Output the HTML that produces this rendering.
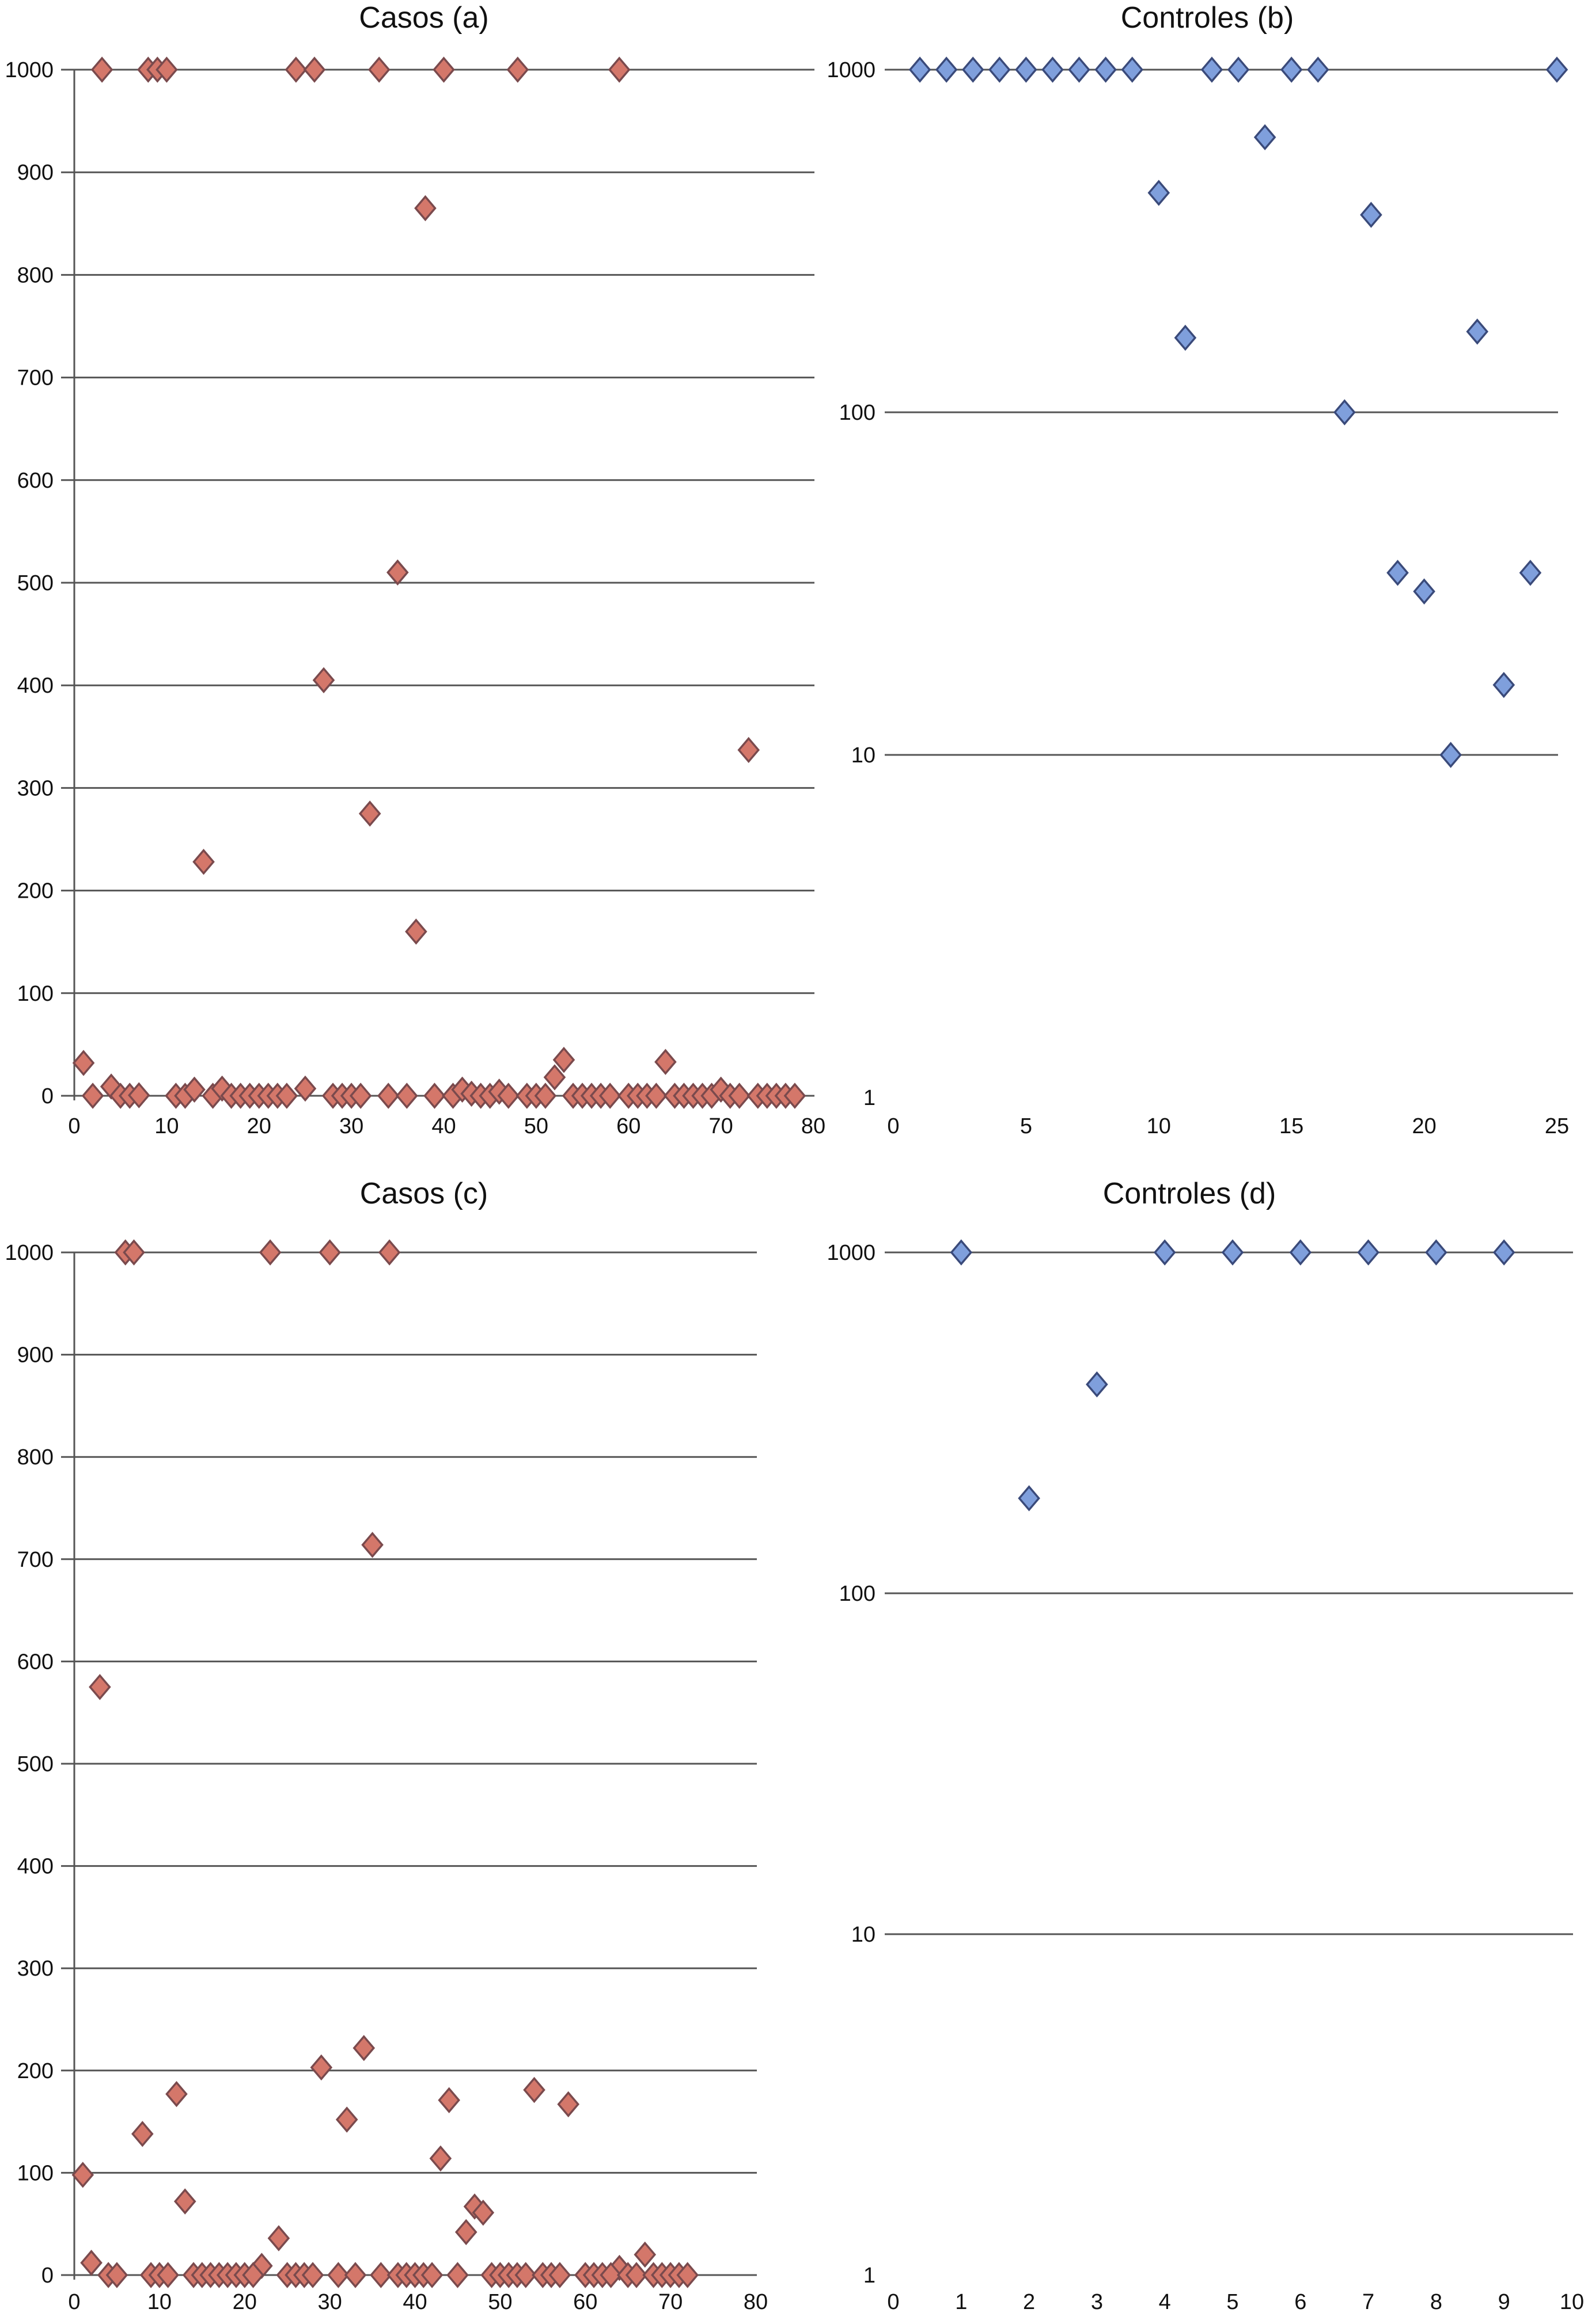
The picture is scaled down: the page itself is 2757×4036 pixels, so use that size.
<!DOCTYPE html>
<html><head><meta charset="utf-8"><style>
html,body{margin:0;padding:0;background:#fff;}
svg{display:block;font-family:"Liberation Sans",sans-serif;}
</style></head><body>
<svg id="chart" width="2757" height="4036" viewBox="0 0 2757 4036" xmlns="http://www.w3.org/2000/svg"></svg>
<script>
// Panel a (Casos)
const aX = [3,8,9,10,24,26,33,40,48,59,38,14,35,27,32,37,73,1,2,4,5,6,7,11,12,13,15,16,17,18,19,20,21,22,23,25,28,29,30,31,34,36,39,41,42,43,44,45,46,47,49,50,51,52,53,54,55,56,57,58,60,61,62,63,64,65,66,67,68,69,70,71,72,74,75,76,77,78];
const aY = [1000,1000,1000,1000,1000,1000,1000,1000,1000,1000,865,228,510,405,275,160,337,32,0,9,0,0,0.5,0,0,6,0,7,0,0,0,0,0,0,0,7,0,0,0,0,0,0,0,0,6,2,0,0,4,0,0,0,0,18,35,0,0,0,0,0,0,0,0,0,33,0,0,0,0,0,6,0,0,0,0,0,0,0];
// Panel b (Controles, log)
const bX = [1,2,3,4,5,6,7,8,9,12,13,15,16,25,10,11,14,17,18,19,20,21,22,23,24];
const bY = [1000,1000,1000,1000,1000,1000,1000,1000,1000,1000,1000,1000,1000,1000,437,165,635,100,377,34,30,10,172,16,34];
// Panel c (Casos)
const cX = [6,7,23,30,37,35,3,1,2,8,12,13,24,29,32,34,43,44,46,47,48,54,58,67,22,64,4,5,9,10,11,14,15,16,17,18,19,20,21,25,26,27,28,31,33,36,38,39,40,41,42,45,49,50,51,52,53,55,56,57,60,61,62,63,65,66,68,69,70,71,72];
const cY = [1000,1000,1000,1000,1000,714,575,98,12,138,177,72,36,203,152,222,114,171,42,67,61,181,167,20,9,7,0,0,0,0,0,0,0,0,0,0,0,0,0,0,0,0,0,0,0,0,0,0,0,0,0,0,0,0,0,0,0,0,0,0,0,0,0,0,0,0,0,0,0,0,0];
// Panel d (Controles, log)
const dX = [1,4,5,6,7,8,9,2,3];
const dY = [1000,1000,1000,1000,1000,1000,1000,190,410];
const linTicks = [0,100,200,300,400,500,600,700,800,900,1000];
const logTicks = [1,10,100,1000];
const xTicks80 = [0,10,20,30,40,50,60,70,80];
const xTicks25 = [0,5,10,15,20,25];
const xTicks10 = [0,1,2,3,4,5,6,7,8,9,10];

const NS="http://www.w3.org/2000/svg";
const svg=document.getElementById('chart');
function mk(tag,attrs,parent){const e=document.createElementNS(NS,tag);for(const k in attrs)e.setAttribute(k,attrs[k]);(parent||svg).appendChild(e);return e;}

function panel(cfg){
  const g=mk('g',{});
  
  
  const sx=v=>cfg.x0+(v-cfg.xmin)/(cfg.xmax-cfg.xmin)*(cfg.x1-cfg.x0);
  const sy=cfg.log
    ? v=>cfg.yb-(Math.log10(v)-0)/3*(cfg.yb-cfg.yt)
    : v=>cfg.yb-(v/1000)*(cfg.yb-cfg.yt);
  const t=mk('text',{x:cfg.tx,y:cfg.ty,'font-size':52,'text-anchor':'middle',fill:'#111'},g);
  t.textContent=cfg.title;
  
  
  cfg.yticks.forEach(v=>{
    const y=sy(v);
    if(!(cfg.log && v===1)){
      const l=mk('line',{x1:cfg.gl,x2:cfg.gr,y1:y,y2:y,stroke:'#555','stroke-width':3},g);
      
      
    }
    const tx=mk('text',{x:cfg.lx,y:y+13,'font-size':38,'text-anchor':'end',fill:'#111'},g);
    tx.textContent=v;
    
    
  });
  if(cfg.axis){
    const a=mk('line',{x1:cfg.x0,x2:cfg.x0,y1:sy(1000),y2:cfg.yb+8,stroke:'#555','stroke-width':3},g);
    
    
  }
  cfg.xticks.forEach(v=>{
    const tx=mk('text',{x:sx(v),y:cfg.xly,'font-size':38,'text-anchor':'middle',fill:'#111'},g);
    tx.textContent=v;
    
    
  });
  cfg.xs.forEach((xv,i)=>{
    const cx=sx(xv),cy=sy(cfg.ys[i]),r=17;
    const p=mk('polygon',{points:`${cx},${cy-r-3} ${cx+r},${cy} ${cx},${cy+r+3} ${cx-r},${cy}`,fill:cfg.fill,stroke:cfg.stroke,'stroke-width':3.5},g);
    
    
  });
}
panel({name:'panel-casos-a',title:'Casos (a)',tx:736,ty:48,x0:129,x1:1412,xmin:0,xmax:80,yt:121,yb:1903,log:false,
  yticks:linTicks,xticks:xTicks80,gl:106,gr:1414,lx:93,xly:1968,axis:true,xs:aX,ys:aY,fill:'#d4776a',stroke:'#7a4a4d'});
panel({name:'panel-controles-b',title:'Controles (b)',tx:2096,ty:48,x0:1551,x1:2703,xmin:0,xmax:25,yt:121,yb:1906,log:true,
  yticks:logTicks,xticks:xTicks25,gl:1536,gr:2705,lx:1520,xly:1968,axis:false,xs:bX,ys:bY,fill:'#7f9fdc',stroke:'#3a4a7a'});
panel({name:'panel-casos-c',title:'Casos (c)',tx:736,ty:2090,x0:129,x1:1312,xmin:0,xmax:80,yt:2175,yb:3951,log:false,
  yticks:linTicks,xticks:xTicks80,gl:106,gr:1314,lx:93,xly:4010,axis:true,xs:cX,ys:cY,fill:'#d4776a',stroke:'#7a4a4d'});
panel({name:'panel-controles-d',title:'Controles (d)',tx:2065,ty:2090,x0:1551,x1:2729,xmin:0,xmax:10,yt:2175,yb:3951,log:true,
  yticks:logTicks,xticks:xTicks10,gl:1536,gr:2731,lx:1520,xly:4010,axis:false,xs:dX,ys:dY,fill:'#7f9fdc',stroke:'#3a4a7a'});
</script>
</body></html>
